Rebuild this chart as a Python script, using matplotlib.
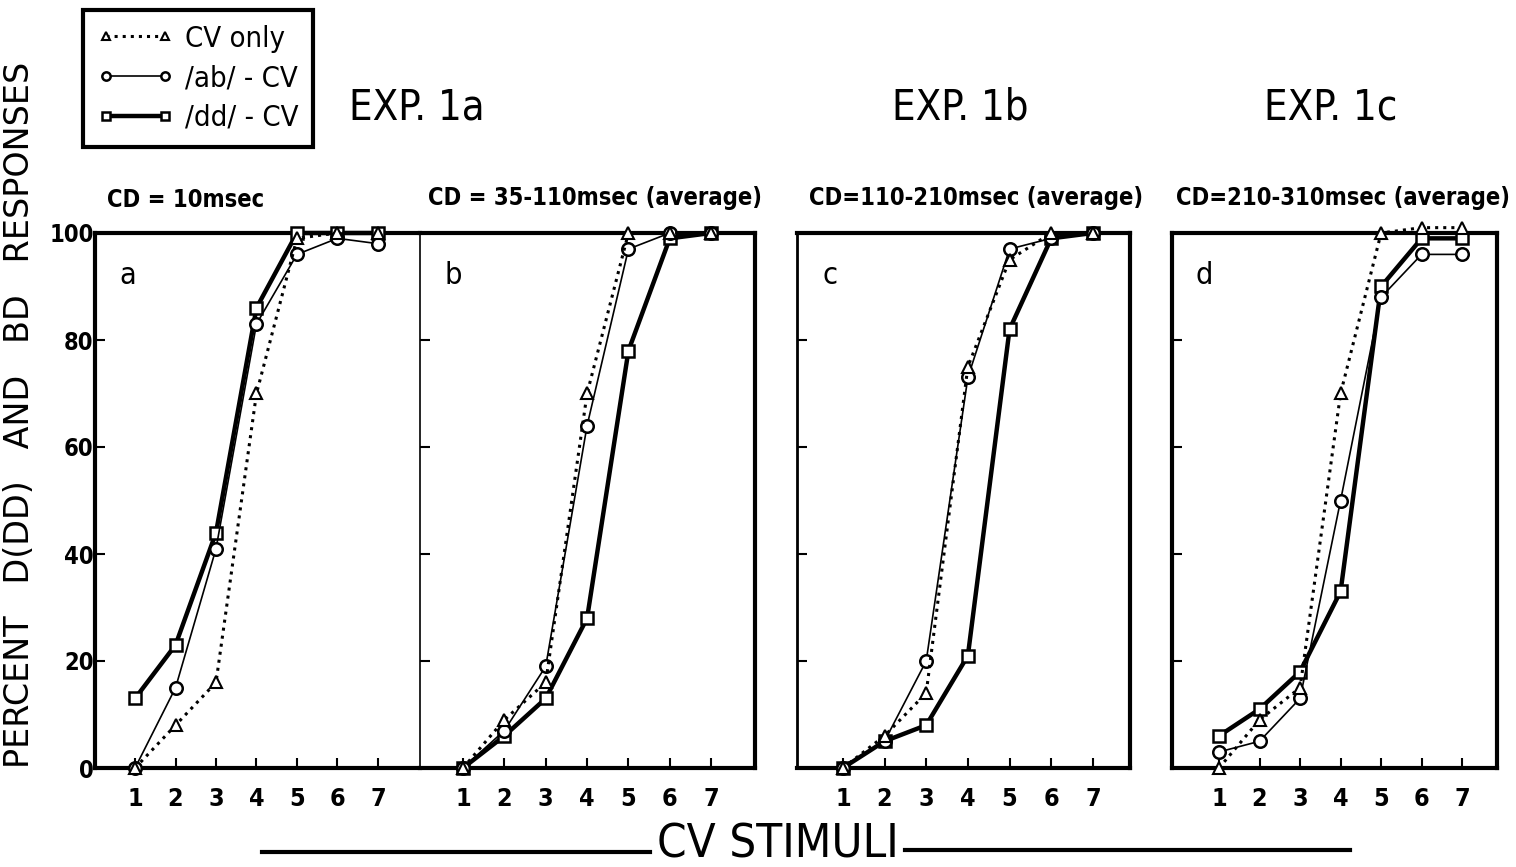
import matplotlib
matplotlib.use('Agg')
import matplotlib.pyplot as plt
from matplotlib.lines import Line2D
from matplotlib import font_manager

# ---- data ----
stimuli = [1, 2, 3, 4, 5, 6, 7]

cv_only_a = [0, 8, 16, 70, 99, 100, 100]
ab_cv_a = [0, 15, 41, 83, 96, 99, 98]
dd_cv_a = [13, 23, 44, 86, 100, 100, 100]

cv_only_b = [0, 9, 16, 70, 100, 100, 100]
ab_cv_b = [0, 7, 19, 64, 97, 100, 100]
dd_cv_b = [0, 6, 13, 28, 78, 99, 100]

cv_only_c = [0, 6, 14, 75, 95, 100, 100]
ab_cv_c = [0, 5, 20, 73, 97, 99, 100]
dd_cv_c = [0, 5, 8, 21, 82, 99, 100]

cv_only_d = [0, 9, 15, 70, 100, 101, 101]
ab_cv_d = [3, 5, 13, 50, 88, 96, 96]
dd_cv_d = [6, 11, 18, 33, 90, 99, 99]

panel_letters = ['a', 'b', 'c', 'd']
panel_titles = ['CD = 10msec', 'CD = 35-110msec (average)',
                'CD=110-210msec (average)', 'CD=210-310msec (average)']
exp_labels = ['EXP. 1a', 'EXP. 1b', 'EXP. 1c']
y_ticks = [0, 20, 40, 60, 80, 100]

series = [
    (cv_only_a, ab_cv_a, dd_cv_a),
    (cv_only_b, ab_cv_b, dd_cv_b),
    (cv_only_c, ab_cv_c, dd_cv_c),
    (cv_only_d, ab_cv_d, dd_cv_d),
]

# use a condensed face if one is installed
names = {f.name for f in font_manager.fontManager.ttflist}
if 'DejaVu Sans Condensed' in names:
    NARROW = 'DejaVu Sans Condensed'
elif 'Liberation Sans Narrow' in names:
    NARROW = 'Liberation Sans Narrow'
else:
    NARROW = 'DejaVu Sans'
plt.rcParams['font.family'] = [NARROW, 'DejaVu Sans']
plt.rcParams['font.stretch'] = 'condensed'

W, H = 1516, 867
fig = plt.figure(figsize=(W / 100, H / 100), dpi=100)

# axes boxes in pixels (left, right) and x limits
boxes = [(95, 420), (420, 755), (797, 1130), (1172, 1497)]
xlims = [(0.01, 8.04), (-0.04, 8.06), (-0.1, 7.89), (-0.16, 7.86)]
top_px, bot_px = 233, 768

cv_style = dict(color='black', linestyle=':', linewidth=2.2, marker='^',
                markersize=8, markerfacecolor='white', markeredgewidth=1.5)
ab_style = dict(color='black', linestyle='-', linewidth=1.2, marker='o',
                markersize=9, markerfacecolor='white', markeredgewidth=1.8)
dd_style = dict(color='black', linestyle='-', linewidth=3.2, marker='s',
                markersize=8, markerfacecolor='white', markeredgewidth=1.8)

axes = []
for i, ((l, r), xl) in enumerate(zip(boxes, xlims)):
    ax = fig.add_axes([l / W, (H - bot_px) / H, (r - l) / W, (bot_px - top_px) / H])
    cv, ab, dd = series[i]
    ax.plot(stimuli, dd, clip_on=False, zorder=3, **dd_style)
    ax.plot(stimuli, ab, clip_on=False, zorder=4, **ab_style)
    ax.plot(stimuli, cv, clip_on=False, zorder=5, **cv_style)
    ax.set_xlim(*xl)
    ax.set_ylim(0, 100)
    ax.set_xticks(stimuli)
    ax.set_xticklabels([str(s) for s in stimuli], fontsize=18, fontweight='bold')
    ax.set_yticks(y_ticks)
    if i == 0:
        ax.set_yticklabels([str(t) for t in y_ticks], fontsize=17, fontweight='bold')
    else:
        ax.set_yticklabels([])
    ax.tick_params(direction='in', length=7, width=1.5)
    ax.tick_params(axis='x', top=False, pad=14)
    ax.tick_params(axis='y', left=True, right=False, pad=1)
    for s in ax.spines.values():
        s.set_linewidth(3)
    ax.text(0.1, 0.92, panel_letters[i], transform=ax.transAxes,
            fontsize=22, ha='center', va='center')
    axes.append(ax)

# panels a and b share one box, thin divider
axes[0].spines['right'].set_visible(False)
axes[1].spines['left'].set_linewidth(1.2)
axes[2].spines['left'].set_linewidth(2)

# panel subtitles
fig.text(107 / W, 1 - 200 / H, panel_titles[0], fontsize=17,
         fontweight='bold', ha='left', va='center')
for t, cx in zip(panel_titles[1:], [595, 976, 1343]):
    fig.text(cx / W, 1 - 198 / H, t, fontsize=17, fontweight='bold',
             ha='center', va='center')

# experiment labels
for t, cx in zip(exp_labels, [417, 960, 1331]):
    fig.text(cx / W, 1 - 107 / H, t, fontsize=30, ha='center', va='center')

# y label
fig.text(20 / W, 1 - 415 / H, 'PERCENT   D(DD)   AND   BD   RESPONSES',
         rotation=90, fontsize=24, ha='center', va='center',
         family='DejaVu Sans', stretch='normal')

# x label with rules on both sides
fig.text(778 / W, 1 - 845 / H, 'CV STIMULI', fontsize=34, ha='center', va='center')
fig.add_artist(Line2D([262 / W, 650 / W], [1 - 852 / H, 1 - 852 / H],
                      color='black', linewidth=3))
fig.add_artist(Line2D([905 / W, 1350 / W], [1 - 850 / H, 1 - 850 / H],
                      color='black', linewidth=3))

# legend
handles = [Line2D([], [], **cv_style), Line2D([], [], **ab_style),
           Line2D([], [], **dd_style)]
for h in handles:
    h.set_markersize(6)
leg = fig.legend(handles, ['CV only', '/ab/ - CV', '/dd/ - CV'],
                 loc='upper left', bbox_to_anchor=(83 / W, 1 - 10 / H),
                 borderaxespad=0, numpoints=2, handlelength=2.6, fontsize=21,
                 fancybox=False, edgecolor='black', framealpha=1,
                 borderpad=0.5, labelspacing=0.4, handletextpad=0.4)
leg.get_frame().set_linewidth(3)

fig.savefig('out.png', dpi=100)
